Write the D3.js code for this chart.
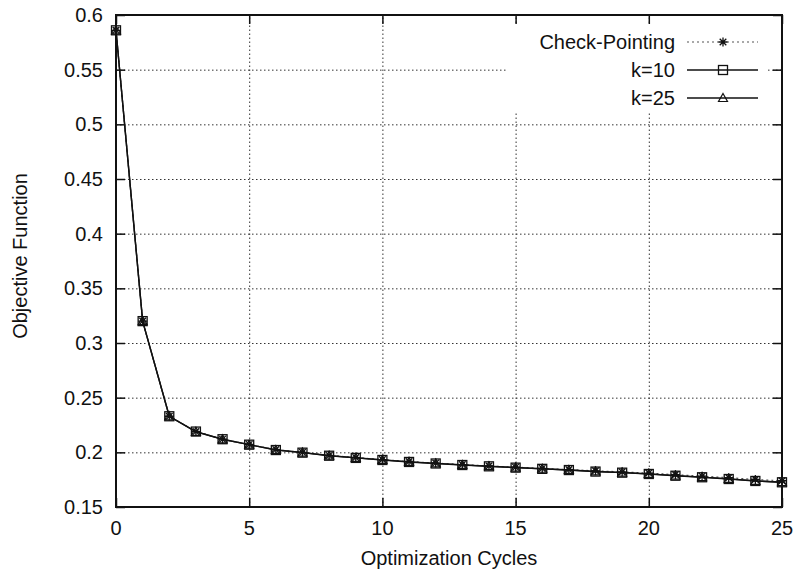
<!DOCTYPE html>
<html>
<head>
<meta charset="utf-8">
<script src="https://cdn.jsdelivr.net/npm/d3@7"></script>
<style>
  body { margin: 0; background: #fff; }
  svg text { font-family: "Liberation Sans", Arial, sans-serif; fill: #111; }
  .grid line { stroke: #333; stroke-width: 1; stroke-dasharray: 1.5 2.5; }
</style>
</head>
<body>
<svg id="chart"></svg>
<script>
// values
const cycles = d3.range(0, 26)
const checkPointing = [0.586, 0.320, 0.233, 0.219, 0.212, 0.2072, 0.2025, 0.2, 0.1972, 0.1952, 0.1934, 0.1916, 0.1902, 0.1888, 0.1876, 0.1864, 0.1853, 0.1842, 0.1831, 0.1821, 0.1810, 0.1796, 0.1782, 0.1768, 0.1752, 0.1740]
const kTen = [0.586, 0.320, 0.233, 0.219, 0.212, 0.207, 0.2021, 0.1997, 0.1969, 0.1949, 0.193, 0.1912, 0.1898, 0.1884, 0.1872, 0.186, 0.1849, 0.1838, 0.1824, 0.1814, 0.1802, 0.1786, 0.1772, 0.1756, 0.1738, 0.1726]
const kTwentyFive = [0.586, 0.320, 0.233, 0.2188, 0.2119, 0.207, 0.2022, 0.1998, 0.197, 0.195, 0.1931, 0.1913, 0.1899, 0.1885, 0.1873, 0.1861, 0.185, 0.1839, 0.1825, 0.1815, 0.1803, 0.1787, 0.1773, 0.1757, 0.1739, 0.1727]
const xTicks = [0, 5, 10, 15, 20, 25]
const yTicks = [0.15, 0.2, 0.25, 0.3, 0.35, 0.4, 0.45, 0.5, 0.55, 0.6]
const seriesNames = ['Check-Pointing', 'k=10', 'k=25']

const width = 798, height = 573
const margin = { top: 15, right: 16, bottom: 66, left: 116 }
const w = width - margin.left - margin.right
const h = height - margin.top - margin.bottom

const svg = d3.select('#chart').attr('width', width).attr('height', height)
const chart = svg.append('g').attr('transform', `translate(${margin.left}, ${margin.top})`)

const x = d3.scaleLinear().domain([0, 25]).range([0, w])
const y = d3.scaleLinear().domain([0.15, 0.6]).range([h, 0])

// grid
chart.append('g').attr('class', 'grid')
    .attr('transform', `translate(0, ${h})`)
    .call(d3.axisBottom(x).tickValues(xTicks.slice(1, -1)).tickSize(-h).tickFormat(''))
    .call(g => g.select('.domain').remove())
chart.append('g').attr('class', 'grid')
    .call(d3.axisLeft(y).tickValues(yTicks.slice(1, -1)).tickSize(-w).tickFormat(''))
    .call(g => g.select('.domain').remove())

// legend background hides grid
chart.append('rect')
    .attr('x', 390).attr('y', 10).attr('width', 262).attr('height', 86)
    .attr('fill', '#fff')

// inner ticks on all four sides
const tickStyle = g => {
    g.select('.domain').remove()
    g.selectAll('.tick line').attr('stroke', '#111').attr('stroke-width', 1.5)
    g.selectAll('.tick text').remove()
}
chart.append('g').attr('transform', `translate(0, ${h})`)
    .call(d3.axisBottom(x).tickValues(xTicks).tickSize(-9)).call(tickStyle)
chart.append('g')
    .call(d3.axisTop(x).tickValues(xTicks).tickSize(-9)).call(tickStyle)
chart.append('g')
    .call(d3.axisLeft(y).tickValues(yTicks).tickSize(-9)).call(tickStyle)
chart.append('g').attr('transform', `translate(${w}, 0)`)
    .call(d3.axisRight(y).tickValues(yTicks).tickSize(-9)).call(tickStyle)

// tick labels
chart.selectAll('.xlab').data(xTicks).join('text')
    .attr('x', d => x(d)).attr('y', h + 28)
    .attr('text-anchor', 'middle').attr('font-size', 20)
    .text(d => d)
chart.selectAll('.ylab').data(yTicks).join('text')
    .attr('x', -13).attr('y', d => y(d) + 7)
    .attr('text-anchor', 'end').attr('font-size', 20)
    .text(d => d)

svg.append('text')
    .attr('x', margin.left + w / 2).attr('y', 565)
    .attr('text-anchor', 'middle').attr('font-size', 20)
    .text('Optimization Cycles')
svg.append('text')
    .attr('transform', `translate(27, 256) rotate(-90)`)
    .attr('text-anchor', 'middle').attr('font-size', 20)
    .text('Objective Function')

// lines
const line = d3.line().x((d, i) => x(cycles[i])).y(d => y(d))
const series = [
    { name: seriesNames[0], values: checkPointing, dash: '2 3', color: '#555', marker: 'star' },
    { name: seriesNames[1], values: kTen, dash: null, color: '#111', marker: 'square' },
    { name: seriesNames[2], values: kTwentyFive, dash: null, color: '#111', marker: 'triangle' }
]

const drawMarker = (g, type) => {
    if (type === 'square') {
        g.append('rect').attr('x', -4.5).attr('y', -4.5).attr('width', 9).attr('height', 9)
            .attr('fill', 'none').attr('stroke', '#111').attr('stroke-width', 1.3)
    } else if (type === 'triangle') {
        g.append('path').attr('d', 'M0,-4.5L4.5,3.5L-4.5,3.5Z')
            .attr('fill', 'none').attr('stroke', '#111').attr('stroke-width', 1.2)
    } else {
        g.append('path').attr('d', 'M-4.5,0H4.5M0,-4.5V4.5M-3.3,-3.3L3.3,3.3M-3.3,3.3L3.3,-3.3')
            .attr('fill', 'none').attr('stroke', '#111').attr('stroke-width', 1.3)
    }
}

series.forEach(s => {
    chart.append('path')
        .datum(s.values)
        .attr('fill', 'none')
        .attr('stroke', s.color)
        .attr('stroke-width', s.dash ? 1.2 : 1.4)
        .attr('stroke-dasharray', s.dash)
        .attr('d', line)
})
series.forEach(s => {
    chart.selectAll(null).data(s.values).join('g')
        .attr('transform', (d, i) => `translate(${x(cycles[i])}, ${y(d)})`)
        .each(function () { drawMarker(d3.select(this), s.marker) })
})

// legend
const legend = chart.append('g')
series.forEach((s, i) => {
    const ly = 27 + i * 28
    legend.append('text')
        .attr('x', 559).attr('y', ly + 7)
        .attr('text-anchor', 'end').attr('font-size', 20)
        .text(s.name)
    legend.append('line')
        .attr('x1', 571).attr('x2', 642).attr('y1', ly).attr('y2', ly)
        .attr('stroke', s.color).attr('stroke-width', s.dash ? 1.2 : 1.4)
        .attr('stroke-dasharray', s.dash)
    drawMarker(legend.append('g').attr('transform', `translate(607, ${ly})`), s.marker)
})

// border
chart.append('rect')
    .attr('width', w).attr('height', h)
    .attr('fill', 'none').attr('stroke', '#111').attr('stroke-width', 2)
</script>
</body>
</html>
